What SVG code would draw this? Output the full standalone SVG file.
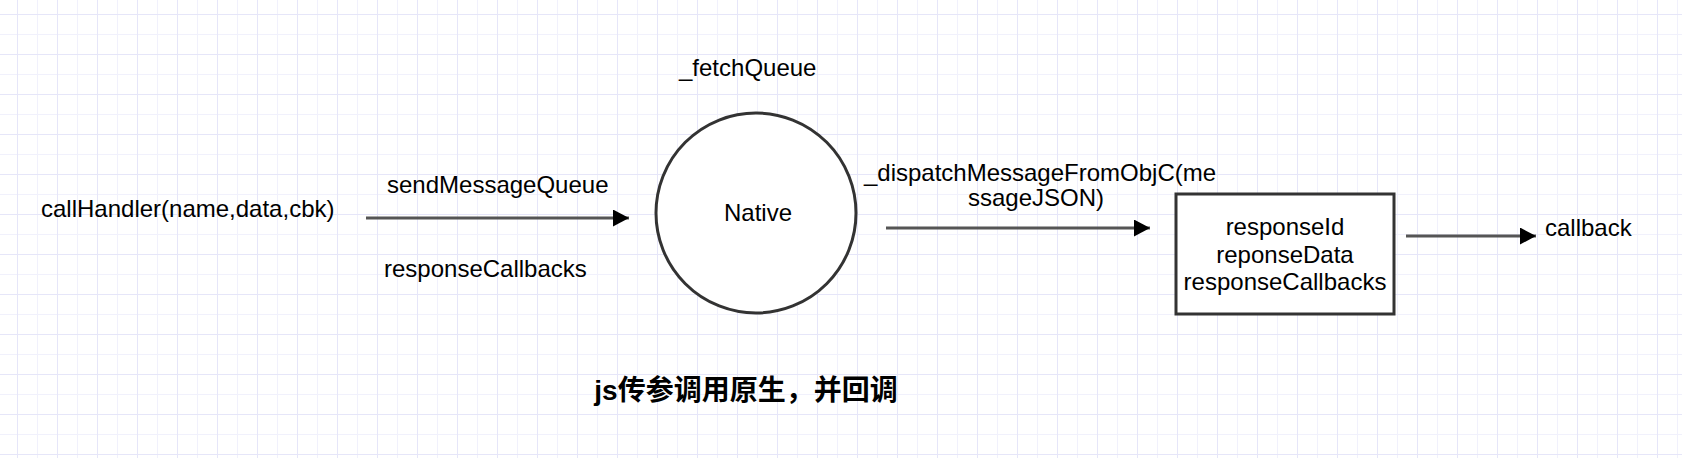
<svg xmlns="http://www.w3.org/2000/svg" width="1682" height="458" viewBox="0 0 1682 458">
  <defs>
    <pattern id="minor" x="17" y="14" width="20" height="20" patternUnits="userSpaceOnUse">
      <path d="M0 0 V20 M0 0 H20" fill="none" stroke="#f1f1fc" stroke-width="2"/>
    </pattern>
    <pattern id="major" x="17" y="14" width="40" height="40" patternUnits="userSpaceOnUse">
      <path d="M0 0 V40 M0 0 H40" fill="none" stroke="#e6e6f9" stroke-width="2"/>
    </pattern>
    <marker id="arrow" viewBox="0 0 16 17" refX="16" refY="8.5" markerWidth="16" markerHeight="17" markerUnits="userSpaceOnUse" orient="auto">
      <path d="M0 0 L16 8.5 L0 17 Z" fill="#000"/>
    </marker>
    <style>
      .t { font-family: "Liberation Sans", Arial, "Noto Sans CJK SC", sans-serif; font-size: 24px; fill: #000; }
      .c { text-anchor: middle; }
      .title { font-family: "Liberation Sans", Arial, "Noto Sans CJK SC", sans-serif; font-size: 28px; font-weight: bold; fill: #000; text-anchor: middle; }
      .edge { stroke: #555; stroke-width: 3; fill: none; marker-end: url(#arrow); }
      .shape { fill: #fff; stroke: #333; stroke-width: 3; }
    </style>
  </defs>
  <rect width="1682" height="458" fill="#fff"/>
  <rect width="1682" height="458" fill="url(#minor)"/>
  <rect width="1682" height="458" fill="url(#major)"/>

  <g id="connectors">
    <line class="edge" x1="366" y1="218" x2="629" y2="218"/>
    <line class="edge" x1="886" y1="228" x2="1150" y2="228"/>
    <line class="edge" x1="1406" y1="236" x2="1536" y2="236"/>
  </g>

  <g id="callHandler">
    <text class="t" x="41" y="217">callHandler(name,data,cbk)</text>
  </g>
  <g id="labels-send">
    <text class="t" x="387" y="193">sendMessageQueue</text>
    <text class="t" x="384" y="277">responseCallbacks</text>
  </g>
  <g id="native">
    <circle class="shape" cx="756" cy="213" r="100"/>
    <text class="t c" x="758" y="221">Native</text>
  </g>
  <g id="fetchQueue">
    <text class="t" x="679" y="76">_fetchQueue</text>
  </g>
  <g id="dispatch">
    <text class="t c" x="1040" y="181">_dispatchMessageFromObjC(me</text>
    <text class="t c" x="1036" y="206">ssageJSON)</text>
  </g>
  <g id="response">
    <rect class="shape" x="1176" y="194" width="218" height="120" stroke-width="3.5" stroke="#222"/>
    <text class="t c" x="1285" y="235">responseId</text>
    <text class="t c" x="1285" y="263">reponseData</text>
    <text class="t c" x="1285" y="290">responseCallbacks</text>
  </g>
  <g id="callback">
    <text class="t" x="1545" y="236">callback</text>
  </g>
  <g id="title">
    <text class="title" x="746" y="400">js传参调用原生，并回调</text>
  </g>
</svg>
